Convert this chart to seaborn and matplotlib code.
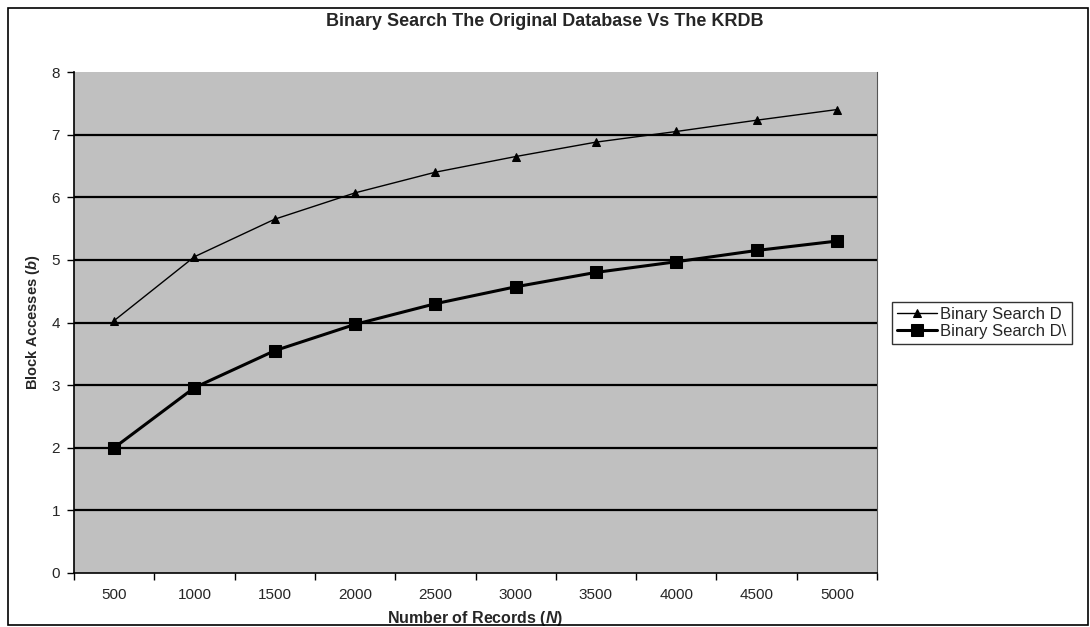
import matplotlib
matplotlib.use("Agg")
import matplotlib.pyplot as plt
import seaborn as sns
import pandas as pd
from matplotlib.patches import Rectangle

# Data
records = ["500", "1000", "1500", "2000", "2500", "3000", "3500", "4000", "4500", "5000"]
search_d = [4.03, 5.05, 5.65, 6.07, 6.40, 6.65, 6.88, 7.05, 7.23, 7.40]
search_d_kr = [2.00, 2.96, 3.55, 3.97, 4.30, 4.57, 4.80, 4.97, 5.15, 5.30]
series_names = ["Binary Search D", "Binary Search D\\"]
y_ticks = [0, 1, 2, 3, 4, 5, 6, 7, 8]

sns.set_theme(style="white")
plt.rcParams["font.family"] = ["Liberation Sans", "DejaVu Sans"]
plt.rcParams["mathtext.fontset"] = "custom"
plt.rcParams["mathtext.bfit"] = "Liberation Sans:italic:bold"
plt.rcParams["mathtext.it"] = "Liberation Sans:italic"

df = pd.DataFrame({
    "N": records * 2,
    "b": search_d + search_d_kr,
    "series": [series_names[0]] * len(records) + [series_names[1]] * len(records),
})

fig = plt.figure(figsize=(10.9, 6.27), dpi=100)
fig.patch.set_facecolor("white")
ax = fig.add_axes([74 / 1090, 54 / 627, (877 - 74) / 1090, (573 - 72) / 627])
ax.set_facecolor("#c0c0c0")

# Horizontal gridlines
for v in y_ticks[1:-1]:
    ax.axhline(v, color="black", lw=1.6, zorder=1)

sns.lineplot(data=df[df.series == series_names[0]], x="N", y="b", ax=ax,
             color="black", lw=1.0, marker="^", markersize=5.5,
             markeredgecolor="black", label=series_names[0], zorder=3)
sns.lineplot(data=df[df.series == series_names[1]], x="N", y="b", ax=ax,
             color="black", lw=2.2, marker="s", markersize=8.5,
             markeredgecolor="black", label=series_names[1], zorder=3)

n = len(records)
ax.set_xlim(-0.5, n - 0.5)
ax.set_ylim(0, 8)
ax.set_yticks(y_ticks)
ax.set_yticklabels([str(t) for t in y_ticks], fontsize=11)
ax.set_xticks(range(n))
ax.set_xticklabels(records, fontsize=11)
ax.set_xticks([i - 0.5 for i in range(n + 1)], minor=True)
ax.tick_params(axis="x", which="major", length=0, pad=11)
ax.tick_params(axis="x", which="minor", length=5, width=1, color="black", direction="out", bottom=True)
ax.tick_params(axis="y", which="major", length=5, width=1, color="black", direction="out", left=True, pad=5)

for side in ["left", "bottom"]:
    ax.spines[side].set_color("black")
    ax.spines[side].set_linewidth(1.2)
ax.spines["top"].set_visible(False)
ax.spines["right"].set_color("#555555")
ax.spines["right"].set_linewidth(0.8)

ax.set_xlabel("Number of Records ($\\mathbfit{N}$)", fontsize=11.5, fontweight="bold", labelpad=5)
ax.set_ylabel("Block Accesses ($\\mathbfit{b}$)", fontsize=10.5, fontweight="bold", labelpad=7)

fig.text(0.5, 1 - 21 / 627, "Binary Search The Original Database Vs The KRDB",
         ha="center", va="center", fontsize=13, fontweight="bold")

leg = ax.legend(loc="center left", bbox_to_anchor=(892 / 1090, 1 - 323 / 627),
                bbox_transform=fig.transFigure, frameon=True, fancybox=False,
                fontsize=12, handlelength=2.4, handletextpad=0.2,
                borderpad=0.3, labelspacing=0.15, borderaxespad=0)
leg.get_frame().set_edgecolor("black")
leg.get_frame().set_linewidth(1.0)

# Outer chart border
fig.patches.append(Rectangle((8 / 1090, 2 / 627), 1080 / 1090, 617 / 627,
                             transform=fig.transFigure, fill=False,
                             edgecolor="black", lw=1.2))

fig.savefig("out.png", dpi=100, facecolor="white")
